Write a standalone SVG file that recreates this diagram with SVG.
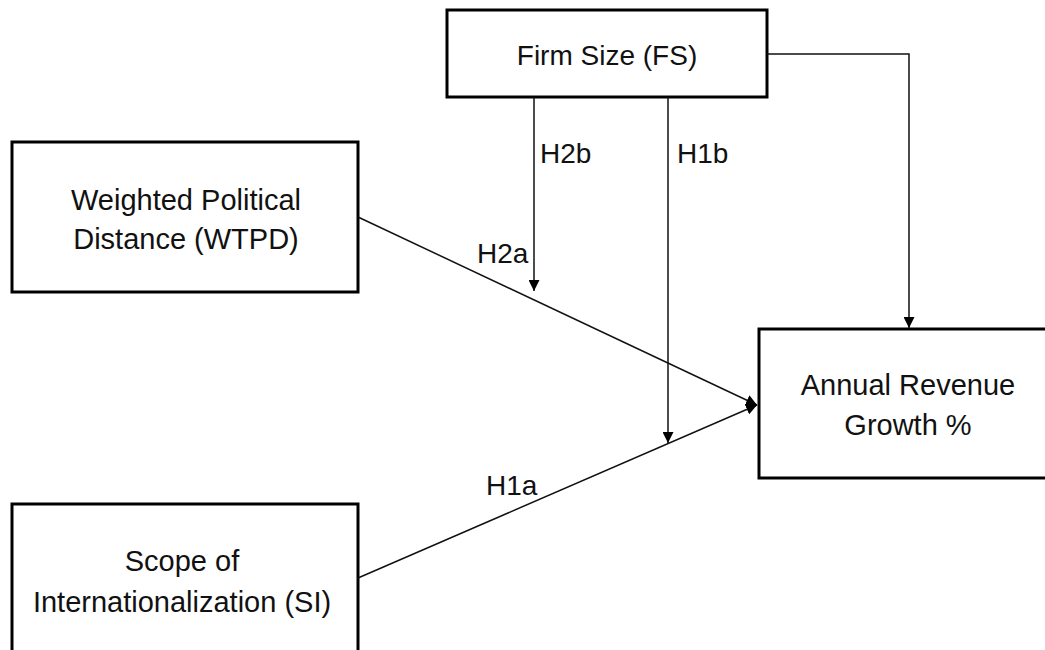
<svg xmlns="http://www.w3.org/2000/svg" width="1045" height="650" viewBox="0 0 1045 650">
<style>
.box{fill:#fff;stroke:#000;stroke-width:3}
.t{font-family:"Liberation Sans",Arial,sans-serif;font-size:29px;fill:#111;text-anchor:middle}
.lbl{font-family:"Liberation Sans",Arial,sans-serif;font-size:28px;fill:#111}
.c{fill:none;stroke:#111;stroke-width:1.5}
</style>
<defs>
<marker id="ah" viewBox="0 0 10 10" refX="10" refY="5" markerWidth="11" markerHeight="11" markerUnits="userSpaceOnUse" orient="auto">
<path d="M0,0 L10,5 L0,10 z" fill="#000"/>
</marker>
</defs>
<rect width="1045" height="650" fill="#fff"/>
<g id="fs">
<rect class="box" x="447" y="10" width="320" height="87"/>
<text class="t" x="607" y="65" style="font-size:28px">Firm Size (FS)</text>
</g>
<g id="wtpd">
<rect class="box" x="12" y="142" width="346" height="150"/>
<text class="t" x="186" y="210">Weighted Political</text>
<text class="t" x="186" y="249">Distance (WTPD)</text>
</g>
<g id="si">
<rect class="box" x="12" y="504" width="346" height="160"/>
<text class="t" x="182" y="571">Scope of</text>
<text class="t" x="182" y="612">Internationalization (SI)</text>
</g>
<g id="arg">
<rect class="box" x="759" y="329" width="300" height="149"/>
<text class="t" x="908" y="395">Annual Revenue</text>
<text class="t" x="908" y="435">Growth %</text>
</g>
<g id="connectors">
<line class="c" x1="358" y1="217" x2="757" y2="405" marker-end="url(#ah)"/>
<line class="c" x1="358" y1="578" x2="757" y2="405" marker-end="url(#ah)"/>
<line class="c" x1="534" y1="97" x2="534" y2="291" marker-end="url(#ah)"/>
<line class="c" x1="668" y1="97" x2="668" y2="443" marker-end="url(#ah)"/>
<polyline class="c" points="767,54 909,54 909,328" marker-end="url(#ah)"/>
</g>
<g id="labels">
<text class="lbl" x="540" y="163">H2b</text>
<text class="lbl" x="677" y="163">H1b</text>
<text class="lbl" x="477" y="263">H2a</text>
<text class="lbl" x="486" y="495">H1a</text>
</g>
</svg>
